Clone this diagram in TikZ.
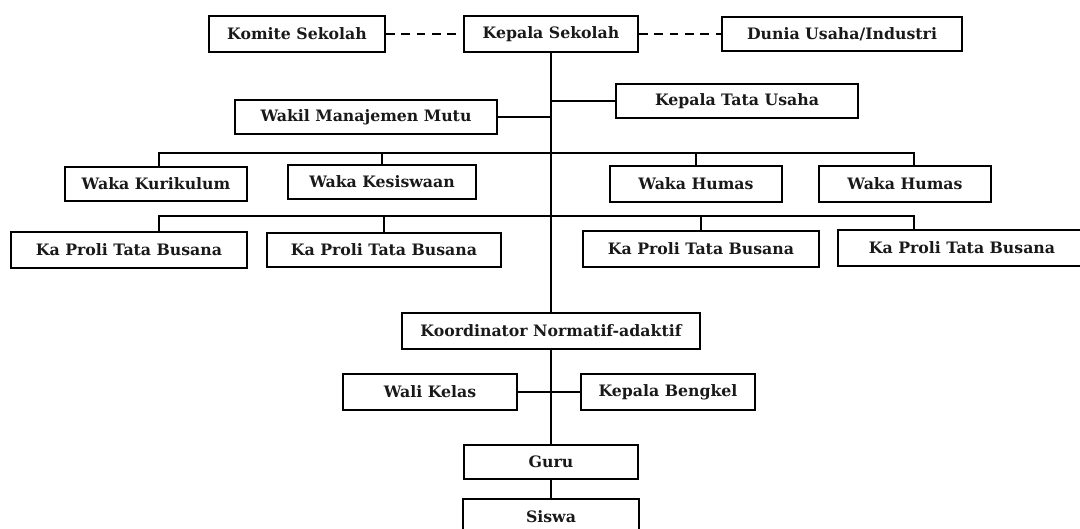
\documentclass[tikz,border=0pt]{standalone}
\usepackage{fontspec}
\setmainfont{DejaVu Serif}
\begin{document}
\begin{tikzpicture}[x=0.75pt,y=-0.75pt,
  box/.style={draw, line width=1.5pt, inner sep=0pt, font=\fontsize{11.8}{14}\selectfont\bfseries, text=black!90},
  link/.style={line width=1.5pt},
  dashlink/.style={line width=1.5pt, dash pattern=on 6.5pt off 5pt}]
\useasboundingbox (0,0) rectangle (1080,528);
\node[box, minimum width=176*0.75pt, minimum height=36*0.75pt] (komite) at (297,34) {Komite Sekolah};
\node[box, minimum width=174*0.75pt, minimum height=36*0.75pt] (kepala) at (551,34) {Kepala Sekolah};
\node[box, minimum width=240*0.75pt, minimum height=34*0.75pt] (dunia) at (842,34) {Dunia Usaha/Industri};
\node[box, minimum width=242*0.75pt, minimum height=34*0.75pt] (ktu) at (737,101) {Kepala Tata Usaha};
\node[box, minimum width=262*0.75pt, minimum height=34*0.75pt] (wmm) at (366,117) {Wakil Manajemen Mutu};
\node[box, minimum width=182*0.75pt, minimum height=34*0.75pt] (wk) at (156,184) {Waka Kurikulum};
\node[box, minimum width=188*0.75pt, minimum height=34*0.75pt] (wks) at (382,182) {Waka Kesiswaan};
\node[box, minimum width=172*0.75pt, minimum height=36*0.75pt] (wh1) at (696,184) {Waka Humas};
\node[box, minimum width=172*0.75pt, minimum height=36*0.75pt] (wh2) at (905,184) {Waka Humas};
\node[box, minimum width=236*0.75pt, minimum height=36*0.75pt] (kp1) at (129,250) {Ka Proli Tata Busana};
\node[box, minimum width=234*0.75pt, minimum height=34*0.75pt] (kp2) at (384,250) {Ka Proli Tata Busana};
\node[box, minimum width=236*0.75pt, minimum height=36*0.75pt] (kp3) at (701,249) {Ka Proli Tata Busana};
\node[box, minimum width=248*0.75pt, minimum height=36*0.75pt] (kp4) at (962,248) {Ka Proli Tata Busana};
\node[box, minimum width=298*0.75pt, minimum height=36*0.75pt] (kn) at (551,331) {Koordinator Normatif-adaktif};
\node[box, minimum width=174*0.75pt, minimum height=36*0.75pt] (wali) at (430,392) {Wali Kelas};
\node[box, minimum width=174*0.75pt, minimum height=36*0.75pt] (kb) at (668,392) {Kepala Bengkel};
\node[box, minimum width=174*0.75pt, minimum height=34*0.75pt] (guru) at (551,462) {Guru};
\node[box, minimum width=176*0.75pt, minimum height=36*0.75pt] (siswa) at (551,517) {Siswa};
% dashed
\draw[dashlink] (komite.east) -- (kepala.west);
\draw[dashlink] (kepala.east) -- (dunia.west);
% trunk
\draw[link] (kepala.south) -- (kn.north);
\draw[link] (kn.south) -- (guru.north);
\draw[link] (guru.south) -- (siswa.north);
\draw[link] (ktu.west) -- (ktu.west -| kepala.south);
\draw[link] (wmm.east) -- (wmm.east -| kepala.south);
\draw[link] (wali.east) -- (kb.west);
% buses
\coordinate (b1l) at (159,153);
\coordinate (b1r) at (914,153);
\coordinate (b2l) at (159,216);
\coordinate (b2r) at (914,216);
\draw[link] (b1l |- wk.north) -- (b1l) -- (b1r) -- (b1r |- wh2.north);
\draw[link] (wks.north) -- (wks.north |- b1l);
\draw[link] (wh1.north) -- (wh1.north |- b1l);
\draw[link] (b2l |- kp1.north) -- (b2l) -- (b2r) -- (b2r |- kp4.north);
\draw[link] (kp2.north) -- (kp2.north |- b2l);
\draw[link] (kp3.north) -- (kp3.north |- b2l);
\end{tikzpicture}
\end{document}
